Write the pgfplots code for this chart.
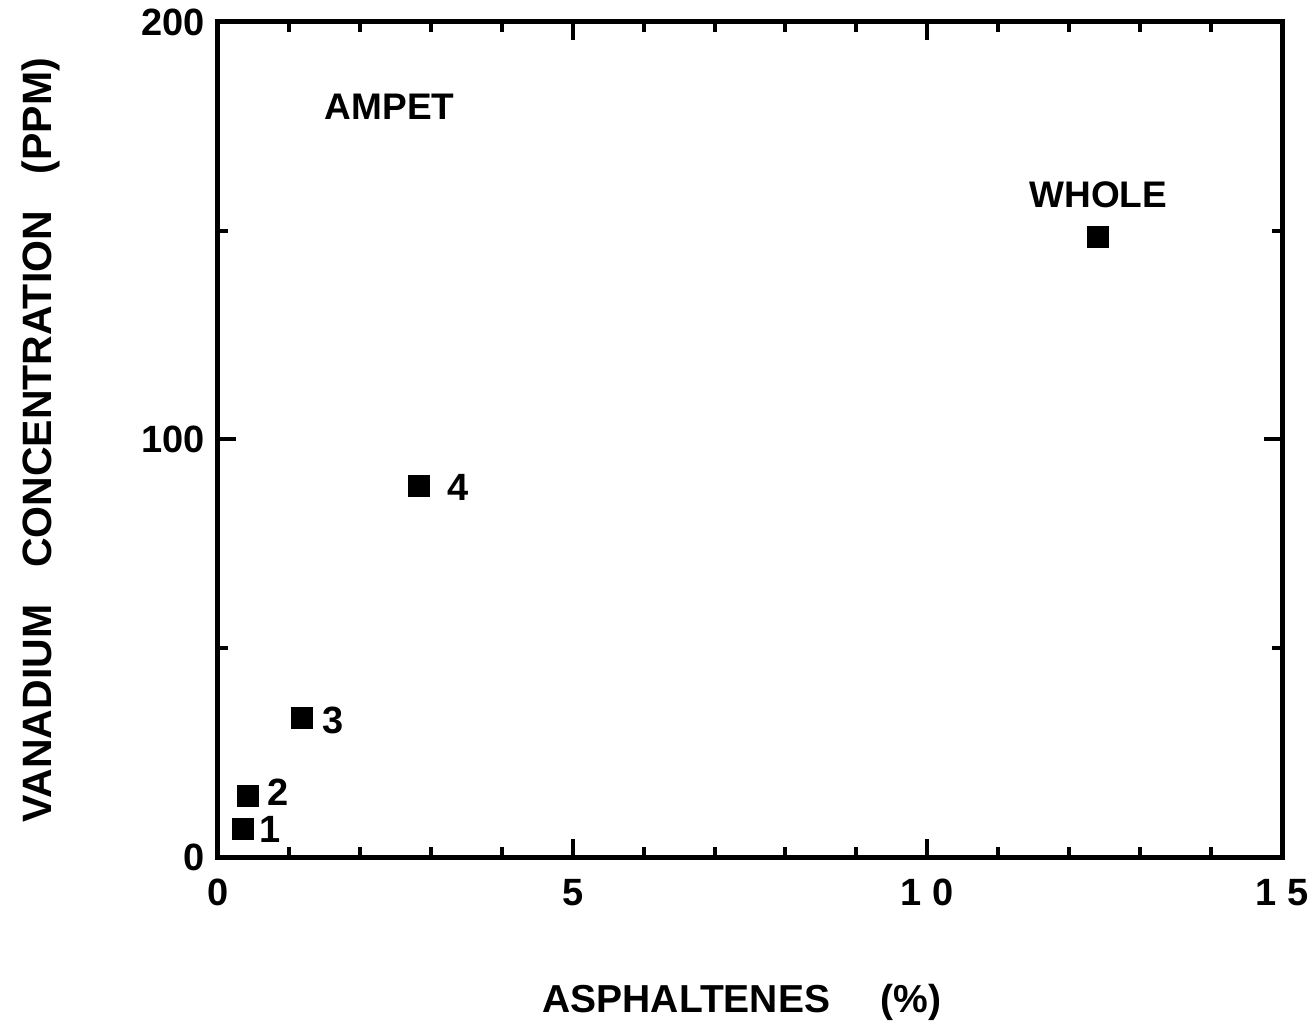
\documentclass[border=0pt]{standalone}
\usepackage{fontspec}
\setmainfont{Liberation Sans}
\usepackage{pgfplots}
\pgfplotsset{compat=1.18}
\begin{document}
\begin{tikzpicture}
\useasboundingbox (-109pt,-82pt) rectangle (548.5pt,428.5pt);
\begin{axis}[
  at={(0,0)}, anchor=south west,
  scale only axis, width=532pt, height=417.5pt,
  xmin=0, xmax=15, ymin=0, ymax=200,
  axis line style={line width=2.5pt},
  xtick={0,5,10,15}, xticklabels={0,5,{1\ 0},{1\ 5}},
  minor x tick num=4,
  ytick={0,100,200}, minor ytick={50,150},
  tick align=inside, tick pos=both,
  major tick length=9pt, minor tick length=5pt,
  every tick/.style={black, line width=2pt},
  /pgf/number format/assume math mode=true,
  tick label style={font=\fontsize{19}{19}\selectfont\bfseries},
  xticklabel style={yshift=-7.5pt},
  yticklabel style={xshift=-3pt},
  xlabel={ASPHALTENES\hspace{1.3em}(\%)},
  ylabel={VANADIUM\hspace{0.9em}CONCENTRATION\hspace{0.9em}(PPM)},
  label style={font=\fontsize{20.5}{21}\selectfont\bfseries},
  xlabel style={at={(axis description cs:0.4925,-0.1745)}, anchor=center, font=\fontsize{19.5}{20}\selectfont\bfseries},
  ylabel style={at={(axis description cs:-0.166,0.499)}, anchor=center},
  clip=false,
]
\addplot[only marks, mark=square*, mark size=5.25pt,
  mark options={fill=black, draw=black, line width=0pt}]
  coordinates {(0.35,6.7) (0.42,14.6) (1.18,33.3) (2.83,88.9) (12.41,148.5)};
\node[font=\fontsize{18.5}{18.5}\selectfont\bfseries] at (axis cs:2.42,179.6) {AMPET};
\node[font=\fontsize{18.5}{18.5}\selectfont\bfseries] at (axis cs:12.41,158.6) {WHOLE};
\node[font=\fontsize{19}{19}\selectfont\bfseries] at (axis cs:0.733,6.7) {1};
\node[font=\fontsize{19}{19}\selectfont\bfseries] at (axis cs:0.846,15.6) {2};
\node[font=\fontsize{19}{19}\selectfont\bfseries] at (axis cs:1.62,32.8) {3};
\node[font=\fontsize{19}{19}\selectfont\bfseries] at (axis cs:3.38,88.6) {4};
\end{axis}
\end{tikzpicture}
\end{document}
